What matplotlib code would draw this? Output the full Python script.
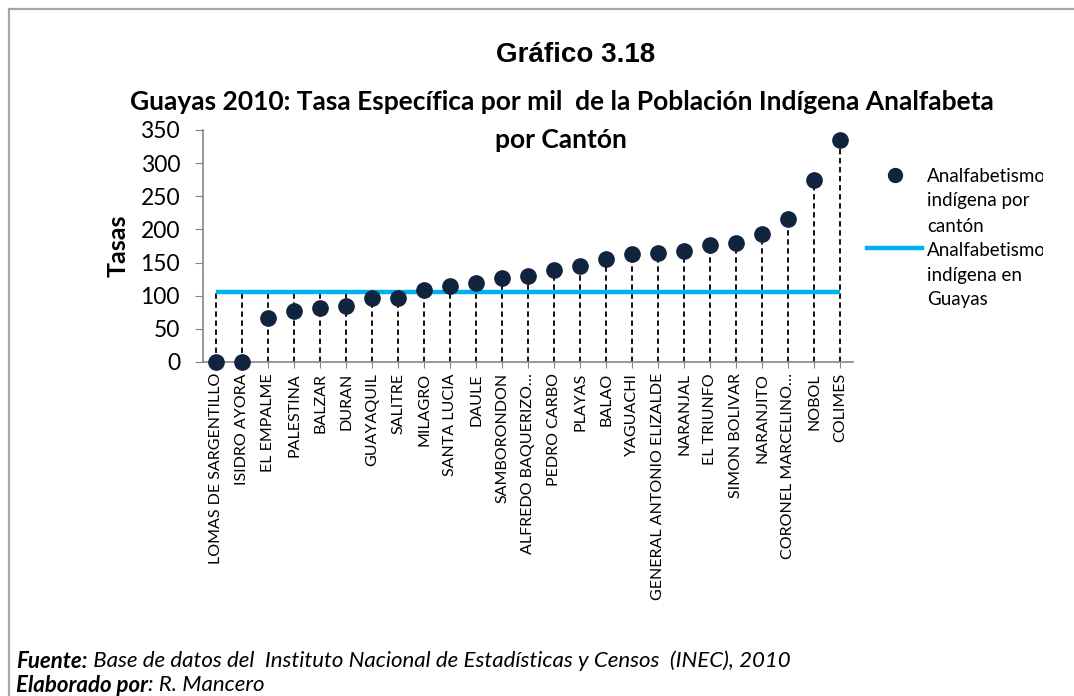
import numpy as np
import matplotlib
matplotlib.use('Agg')
import matplotlib.pyplot as plt
from matplotlib.lines import Line2D
from matplotlib.transforms import Bbox, TransformedBbox

# datos
cantones = ['LOMAS DE SARGENTILLO', 'ISIDRO AYORA', 'EL EMPALME', 'PALESTINA', 'BALZAR',
            'DURAN', 'GUAYAQUIL', 'SALITRE', 'MILAGRO', 'SANTA LUCIA', 'DAULE',
            'SAMBORONDON', 'ALFREDO BAQUERIZO…', 'PEDRO CARBO', 'PLAYAS', 'BALAO',
            'YAGUACHI', 'GENERAL ANTONIO ELIZALDE', 'NARANJAL', 'EL TRIUNFO',
            'SIMON BOLIVAR', 'NARANJITO', 'CORONEL MARCELINO…', 'NOBOL', 'COLIMES']
tasas = [0, 0, 66, 77, 82, 84, 97, 97, 109, 115, 119, 126, 130, 139, 145, 155,
         163, 165, 168, 176, 180, 193, 215, 274, 335]
tasa_guayas = 105
yticks = [0, 50, 100, 150, 200, 250, 300, 350]

calibri = 'Lato'
W, H = 1074, 696

fig = plt.figure(figsize=(W / 100, H / 100), dpi=100)
fig.patch.set_facecolor('white')

# marco
fig.add_artist(Line2D([9 / W, 1], [1 - 9 / H, 1 - 9 / H], color='#A6A6A6', lw=1.6))
fig.add_artist(Line2D([9 / W, 9 / W], [0, 1 - 9 / H], color='#A6A6A6', lw=1.6))

n = len(cantones)
ax = fig.add_axes([203 / W, 1 - 362 / H, 650 / W, 232 / H])
x = np.arange(n)

# lineas de caida hasta el punto mas alto
top = np.maximum(np.array(tasas), tasa_guayas)
ax.vlines(x, 0, top, colors='black', linestyles=(0, (3, 2)), lw=1.3, zorder=2)
ax.plot(x, [tasa_guayas] * n, color='#00B0F0', lw=3.2, solid_capstyle='butt', zorder=3)
ax.plot(x, tasas, 'o', color='#10243E', ms=11, zorder=4, clip_on=False)

ax.set_xlim(-0.5, n - 0.5)
ax.set_ylim(0, 350)
ax.set_yticks(yticks)
ax.set_yticklabels([str(v) for v in yticks], fontsize=16.5, family=calibri)
ax.set_xticks(x)
ax.set_xticklabels(cantones, rotation=90, fontsize=11.5, family=calibri, va='top')
for s in ['top', 'right']:
    ax.spines[s].set_visible(False)
for s in ['left', 'bottom']:
    ax.spines[s].set_color('#868686')
    ax.spines[s].set_linewidth(1.2)
ax.tick_params(axis='y', color='#868686', length=5.5, pad=11)
ax.tick_params(axis='x', color='#868686', length=4, pad=4)
ax.set_ylabel('Tasas', fontsize=18, fontweight='bold', family=calibri, labelpad=8)

# titulos
fig.text(576 / W, 1 - 55 / H, 'Gráfico 3.18', ha='center', va='center',
         fontsize=20, fontweight='bold', family='Liberation Sans')
fig.text(562 / W, 1 - 102 / H,
         'Guayas 2010: Tasa Específica por mil  de la Población Indígena Analfabeta',
         ha='center', va='center', fontsize=19, fontweight='bold', family=calibri)
fig.text(561 / W, 1 - 140 / H, 'por Cantón', ha='center', va='center',
         fontsize=19, fontweight='bold', family=calibri)

# leyenda (texto recortado como en el original)
clip = TransformedBbox(Bbox([[0, 0], [1043 / W, 1]]), fig.transFigure)
fig.add_artist(Line2D([895 / W], [1 - 175 / H], marker='o', color='#10243E', ms=10, ls=''))
fig.add_artist(Line2D([867 / W, 922 / W], [1 - 248 / H, 1 - 248 / H], color='#00B0F0', lw=3.2))
leg1 = ['Analfabetismo', 'indígena por', 'cantón']
leg2 = ['Analfabetismo', 'indígena en', 'Guayas']
for i, t in enumerate(leg1):
    tx = fig.text(927 / W, 1 - (176 + 25 * i) / H, t, va='center', fontsize=13.5, family=calibri)
    tx.set_clip_box(clip)
    tx.set_clip_on(True)
for i, t in enumerate(leg2):
    tx = fig.text(927 / W, 1 - (250 + 25 * i) / H, t, va='center', fontsize=13.5, family=calibri)
    tx.set_clip_box(clip)
    tx.set_clip_on(True)

# fuente
r = fig.canvas.get_renderer()
def linea(xpx, ypx, bold, resto):
    t1 = fig.text(xpx / W, 1 - ypx / H, bold, va='center', fontsize=16, family=calibri,
                  fontweight='bold', style='italic')
    bb = t1.get_window_extent(renderer=r)
    fig.text(bb.x1 / W, 1 - ypx / H, resto, va='center', fontsize=16, family=calibri,
             style='italic')

linea(16, 661, 'Fuente:', ' Base de datos del  Instituto Nacional de Estadísticas y Censos  (INEC), 2010')
linea(16, 685, 'Elaborado por', ': R. Mancero')

fig.savefig('out.png', dpi=100)
